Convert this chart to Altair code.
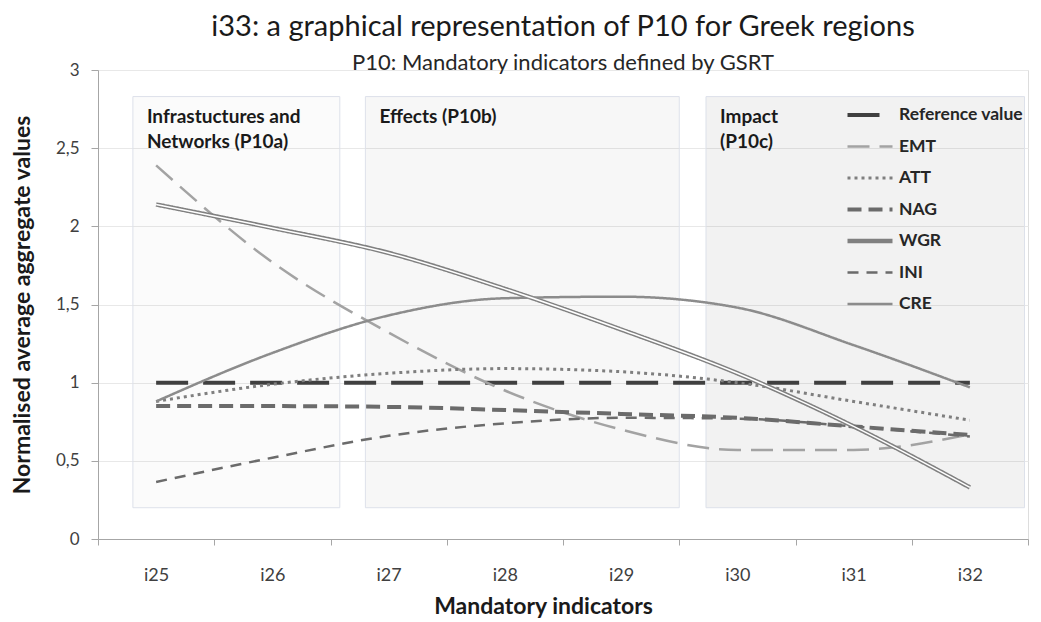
import altair as alt
import pandas as pd
import json

# ---------------- data ----------------
categories = ["i25", "i26", "i27", "i28", "i29", "i30", "i31", "i32"]
series = ["Reference value", "EMT", "ATT", "NAG", "WGR", "INI", "CRE"]

ref_vals = [1, 1, 1, 1, 1, 1, 1, 1]
emt_vals = [2.39, 1.77, 1.32, 0.95, 0.70, 0.57, 0.57, 0.67]
att_vals = [0.88, 0.99, 1.06, 1.09, 1.07, 1.00, 0.88, 0.76]
nag_vals = [0.85, 0.85, 0.845, 0.825, 0.80, 0.775, 0.72, 0.665]
wgr_vals = [2.14, 1.99, 1.83, 1.60, 1.34, 1.06, 0.72, 0.33]
ini_vals = [0.365, 0.52, 0.66, 0.74, 0.775, 0.77, 0.72, 0.655]
cre_vals = [0.88, 1.19, 1.43, 1.54, 1.55, 1.48, 1.24, 0.97]

panel_labels = ["Infrastuctures and\nNetworks (P10a)", "Effects (P10b)", "Impact\n(P10c)"]
panel_start = [0.30, 2.30, 5.23]   # in category-band units
panel_end = [2.08, 5.00, 7.97]
panel_low = [0.2, 0.2, 0.2]
panel_high = [2.83, 2.83, 2.83]

y_ticks = [0, 0.5, 1, 1.5, 2, 2.5, 3]
x_ticks = [0, 0.5, 1, 1.5, 2, 2.5, 3, 3.5, 4, 4.5, 5, 5.5, 6, 6.5, 7, 7.5, 8]

X_TITLE = "Mandatory indicators"
Y_TITLE = "Normalised average aggregate  values"

# ---------------- styles ----------------
FONT = "Lato"
line_colors = ["#404040", "#a3a3a3", "#7f7f7f", "#6b6b6b", "#808080", "#6b6b6b", "#8c8c8c"]
line_dashes = [[32, 15], [22, 10], [3, 4], [14, 7], [1, 0], [11, 8], [1, 0]]
line_widths = [4, 2.5, 3, 4, 4.5, 2.5, 2.5]
panel_fills = ["rgba(0,0,0,0.015)", "rgba(0,0,0,0.03)", "rgba(0,0,0,0.05)"]

all_vals = [ref_vals, emt_vals, att_vals, nag_vals, wgr_vals, ini_vals, cre_vals]
rows = []
for s, vals in zip(series, all_vals):
    for i, (c, v) in enumerate(zip(categories, vals)):
        rows.append({"series": s, "cat": c, "pos": i + 0.5, "value": v})
df = pd.DataFrame(rows)

panels = pd.DataFrame({
    "label": panel_labels,
    "x1": panel_start,
    "x2": panel_end,
    "y1": panel_low,
    "y2": panel_high,
})

xscale = alt.Scale(domain=[0, 8], nice=False, zero=False)
yscale = alt.Scale(domain=[0, 3], nice=False)

xaxis = alt.Axis(
    values=x_ticks,
    labelExpr=f"datum.value % 1 === 0 ? '' : {json.dumps(categories)}[floor(datum.value)]",
    tickOpacity={"condition": {"test": "datum.value % 1 === 0", "value": 1}, "value": 0},
    tickSize=6, tickColor="#a6a6a6", domainColor="#a6a6a6",
    grid=False, labelFont=FONT, labelFontSize=18, labelColor="#404040",
    labelPadding=21, labelOverlap=False, labelFlush=False,
    titleFont=FONT, titleFontSize=23, titleFontWeight="bold", titleColor="#1a1a1a",
    titlePadding=11, titleX=445,
)
yaxis = alt.Axis(
    values=y_ticks,
    labelExpr="replace(format(datum.value, '~g'), '.', ',')",
    tickSize=7, tickColor="#a6a6a6", domainColor="#a6a6a6",
    grid=True, gridColor="#e8e8e8",
    labelFont=FONT, labelFontSize=17, labelColor="#404040", labelPadding=12,
    titleFont=FONT, titleFontSize=23, titleFontWeight="bold", titleColor="#1a1a1a",
    titlePadding=21,
)

leg = alt.Legend(
    orient="none", legendX=747, legendY=37, title=None,
    symbolType="stroke", symbolSize=2025, clipHeight=16, rowPadding=13.5,
    labelFont=FONT, labelFontSize=17.5, labelFontWeight="bold", labelColor="#262626",
    labelOffset=4, padding=0,
)

rects = alt.Chart(panels).mark_rect(stroke="#dde1ea", strokeWidth=1).encode(
    x=alt.X("x1:Q", scale=xscale, axis=xaxis, title=X_TITLE),
    x2="x2:Q",
    y=alt.Y("y1:Q", scale=yscale, axis=yaxis, title=Y_TITLE),
    y2="y2:Q",
    fill=alt.Fill("label:N", scale=alt.Scale(domain=panel_labels, range=panel_fills), legend=None),
)

texts = alt.Chart(panels).mark_text(
    align="left", baseline="top", dx=14, dy=11, font=FONT, fontSize=19,
    fontWeight="bold", color="#1a1a1a", lineBreak="\n", lineHeight=25,
).encode(
    x=alt.X("x1:Q", scale=xscale, axis=xaxis, title=X_TITLE),
    y=alt.Y("y2:Q", scale=yscale, axis=yaxis, title=Y_TITLE),
    text="label:N",
)

lines = alt.Chart(df).mark_line(interpolate="monotone").encode(
    x=alt.X("pos:Q", scale=xscale, axis=xaxis, title=X_TITLE),
    y=alt.Y("value:Q", scale=yscale, axis=yaxis, title=Y_TITLE),
    color=alt.Color("series:N", scale=alt.Scale(domain=series, range=line_colors), legend=leg),
    strokeDash=alt.StrokeDash("series:N", scale=alt.Scale(domain=series, range=line_dashes), legend=leg),
    strokeWidth=alt.StrokeWidth("series:N", scale=alt.Scale(type="ordinal", domain=series, range=line_widths), legend=leg),
)

wgr_inner = alt.Chart(df).transform_filter(alt.datum.series == "WGR").mark_line(
    interpolate="monotone", color="white", strokeWidth=1.5
).encode(
    x=alt.X("pos:Q", scale=xscale, axis=xaxis, title=X_TITLE),
    y=alt.Y("value:Q", scale=yscale, axis=yaxis, title=Y_TITLE),
)

chart = alt.layer(rects, texts, lines, wgr_inner).properties(
    width=930, height=469,
    padding={"left": 3, "right": 0, "top": 5, "bottom": 0},
    title=alt.TitleParams(
        text="i33: a graphical representation of P10 for Greek regions",
        subtitle="P10: Mandatory indicators defined by  GSRT",
        font=FONT, fontSize=29, fontWeight="normal", color="#1a1a1a",
        subtitleFont=FONT, subtitleFontSize=22, subtitleColor="#262626",
        subtitlePadding=11, anchor="middle", frame="group", offset=-13,
    ),
).configure_view(strokeWidth=0).configure(background="white")

chart.save("out.html", embed_options={"renderer": "svg", "actions": False})
